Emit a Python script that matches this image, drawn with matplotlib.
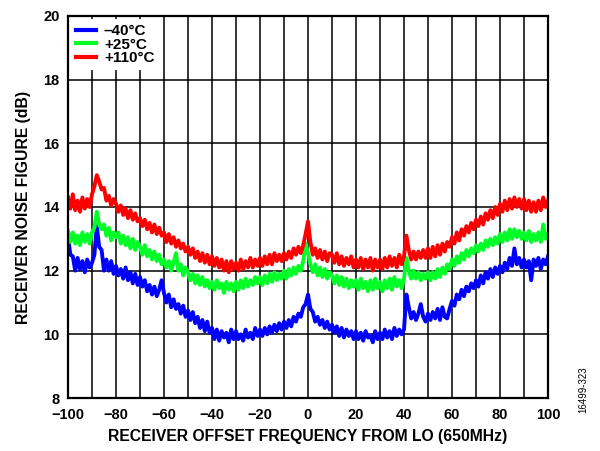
import numpy as np
import matplotlib
matplotlib.use('Agg')
import matplotlib.pyplot as plt

# offset frequency from LO in MHz, 1 MHz steps
freq = np.arange(-100, 101, 1)

# receiver noise figure (dB), one row per 10 MHz
nf_m40 = [
    13.05, 12.5, 12.45, 12.0, 12.4, 12.05, 12.3, 11.95, 12.35, 12.1,
    12.25, 12.5, 13.4, 12.75, 12.65, 12.0, 12.35, 12.0, 12.3, 11.9,
    12.15, 11.85, 12.05, 11.75, 12.1, 11.7, 11.95, 11.6, 11.9, 11.55,
    11.8, 11.5, 11.7, 11.35, 11.55, 11.25, 11.5, 11.2, 11.4, 11.7,
    11.3, 11.0, 11.25, 10.85, 11.1, 10.8, 10.95, 10.65, 10.9, 10.55,
    10.75, 10.45, 10.7, 10.35, 10.55, 10.2, 10.45, 10.1, 10.4, 10.05,
    10.2, 9.85, 10.15, 9.8, 10.1, 9.9, 10.05, 9.75, 10.15, 9.85,
    10.1, 9.85, 10.0, 9.8, 10.15, 9.9, 10.05, 9.85, 10.2, 9.95,
    10.15, 9.95, 10.2, 10.0, 10.25, 10.05, 10.3, 10.1, 10.35, 10.15,
    10.4, 10.2, 10.45, 10.25, 10.55, 10.4, 10.65, 10.55, 10.85, 10.95,
    11.25, 10.8, 10.7, 10.4, 10.55, 10.3, 10.45, 10.2, 10.4, 10.15,
    10.3, 10.05, 10.25, 9.95, 10.2, 9.9, 10.15, 9.95, 10.1, 9.85,
    10.1, 9.85, 10.05, 9.8, 10.1, 9.9, 9.95, 9.75, 10.1, 9.85,
    10.05, 9.85, 10.15, 9.9, 10.1, 9.85, 10.2, 9.95, 10.15, 10.0,
    10.15, 11.25, 10.85, 10.5, 10.7, 10.45, 10.65, 10.95, 10.55, 10.4,
    10.65, 10.45, 10.7, 10.5, 10.8, 10.45, 10.85, 10.55, 10.5, 10.8,
    11.05, 10.9, 11.25, 11.1, 11.4, 11.2, 11.5, 11.35, 11.6, 11.45,
    11.7, 11.5, 11.85, 11.6, 11.95, 11.75, 12.05, 11.8, 12.1, 11.9,
    12.15, 11.95, 12.25, 12.05, 12.4, 12.15, 12.7, 12.2, 12.4, 12.1,
    12.35, 12.1, 12.3, 11.7, 12.35, 12.15, 12.4, 12.05, 12.35, 12.2,
    12.45,
]
nf_p25 = [
    13.25, 12.9, 13.2, 12.85, 13.1, 12.8, 13.2, 12.9, 13.15, 12.85,
    13.2, 13.35, 13.85, 13.45, 13.3, 13.45, 13.1, 13.35, 12.95, 13.2,
    13.05, 13.2, 12.85, 13.1, 12.8, 13.05, 12.7, 13.0, 12.65, 12.9,
    12.75, 12.5, 12.8, 12.45, 12.65, 12.35, 12.6, 12.3, 12.5, 12.2,
    12.35, 12.1, 12.3, 12.0, 12.25, 12.55, 12.0, 12.2, 11.85, 12.1,
    11.95, 11.7, 11.9, 11.6, 11.85, 11.55, 11.8, 11.5, 11.7, 11.45,
    11.65, 11.4, 11.7, 11.45, 11.6, 11.3, 11.65, 11.4, 11.6, 11.35,
    11.65, 11.4, 11.7, 11.45, 11.75, 11.5, 11.7, 11.55, 11.8, 11.6,
    11.8, 11.55, 11.85, 11.6, 11.9, 11.65, 11.95, 11.7, 11.9, 11.75,
    12.0, 11.75, 12.05, 11.85, 12.1, 11.9, 12.15, 12.0, 12.3, 12.85,
    12.55, 12.2, 11.95, 12.2, 11.85, 12.1, 11.8, 12.05, 11.75, 11.95,
    11.85, 11.6, 11.85, 11.55, 11.8, 11.5, 11.75, 11.45, 11.7, 11.5,
    11.7, 11.4, 11.75, 11.45, 11.65, 11.35, 11.7, 11.4, 11.75, 11.45,
    11.65, 11.35, 11.7, 11.45, 11.75, 11.4, 11.8, 11.5, 11.7, 11.45,
    11.75, 12.4, 12.0, 11.75, 12.0, 11.75, 11.95, 11.7, 11.9, 11.75,
    11.95, 11.7, 11.95, 11.75, 12.05, 11.8, 12.1, 11.9, 12.2, 12.05,
    12.35, 12.15, 12.45, 12.25, 12.55, 12.35, 12.65, 12.45, 12.7, 12.55,
    12.8, 12.6, 12.85, 12.65, 12.95, 12.75, 13.0, 12.8, 13.05, 12.85,
    13.15, 12.9, 13.2, 12.95, 13.3, 13.0, 13.3, 13.05, 13.25, 13.0,
    13.2, 12.95, 13.25, 12.9, 13.15, 12.95, 13.2, 12.9, 13.45, 13.0,
    13.15,
]
nf_p110 = [
    14.3, 13.95, 14.4, 13.9, 14.2, 13.85, 14.3, 13.95, 14.25, 14.0,
    14.4, 14.65, 15.0, 14.8, 14.55, 14.6, 14.2, 14.35, 14.05, 14.25,
    14.1, 13.85, 14.05, 13.75, 13.95, 13.65, 13.9, 13.6, 13.8, 13.55,
    13.65, 13.4, 13.6, 13.3, 13.5, 13.2, 13.45, 13.15, 13.35, 13.1,
    13.2, 12.9, 13.15, 12.85, 13.05, 12.75, 12.95, 12.7, 12.85, 12.6,
    12.75, 12.5, 12.7, 12.4, 12.6, 12.3, 12.55, 12.25, 12.5, 12.2,
    12.45, 12.15, 12.4, 12.1, 12.35, 12.0, 12.3, 11.95, 12.3, 12.05,
    12.25, 12.0, 12.35, 12.05, 12.3, 12.1, 12.4, 12.1, 12.35, 12.15,
    12.4, 12.15, 12.45, 12.2, 12.5, 12.2, 12.55, 12.3, 12.5, 12.3,
    12.55, 12.35, 12.6, 12.4, 12.7, 12.5, 12.75, 12.55, 12.8, 13.15,
    13.55, 12.9, 12.5, 12.7, 12.4, 12.65, 12.35, 12.6, 12.3, 12.55,
    12.5, 12.25, 12.55, 12.2, 12.45, 12.15, 12.4, 12.2, 12.45, 12.1,
    12.35, 12.1, 12.4, 12.05, 12.35, 12.1, 12.4, 12.0, 12.35, 12.1,
    12.35, 12.05, 12.4, 12.1, 12.45, 12.15, 12.4, 12.1, 12.5, 12.2,
    12.45, 13.1, 12.65, 12.35, 12.6, 12.35, 12.6, 12.4, 12.65, 12.4,
    12.7, 12.4, 12.75, 12.45, 12.8, 12.5, 12.85, 12.6, 12.9, 12.75,
    13.05, 12.85, 13.2, 12.95, 13.3, 13.1, 13.4, 13.2, 13.5, 13.3,
    13.6, 13.4, 13.7, 13.45, 13.8, 13.6, 13.9, 13.65, 14.0, 13.75,
    14.1, 13.85, 14.2, 13.9, 14.25, 13.95, 14.3, 14.0, 14.25, 13.95,
    14.25, 13.9, 14.2, 13.85, 14.15, 13.85, 14.2, 13.9, 14.3, 14.0,
    14.2,
]

labels = ['\u201340\u00b0C', '+25\u00b0C', '+110\u00b0C']
colors = ['#0000ff', '#00ff26', '#ff0000']

plt.rcParams['font.family'] = ['Liberation Sans', 'DejaVu Sans']
plt.rcParams['font.weight'] = 'bold'

fig = plt.figure(figsize=(6.0, 4.51), dpi=100)
ax = fig.add_axes([68 / 600, 53 / 451, 480 / 600, 382 / 451])

for ys, lab, col in zip([nf_m40, nf_p25, nf_p110], labels, colors):
    ax.plot(freq, ys, color=col, lw=2.8, label=lab)

ax.set_xlim(-100, 100)
ax.set_ylim(8, 20)
ax.set_xticks(np.arange(-100, 101, 20))
ax.set_xticks(np.arange(-100, 101, 10), minor=True)
ax.set_yticks(np.arange(8, 21, 2))
ax.grid(True, which='both', color='black', lw=1.1)
ax.set_axisbelow(True)
ax.tick_params(which='both', length=0, labelsize=10.5)
ax.tick_params(axis='x', pad=7)
ax.tick_params(axis='y', pad=6)
for s in ax.spines.values():
    s.set_linewidth(1.6)

ax.set_xlabel('RECEIVER OFFSET FREQUENCY FROM LO (650MHz)', fontsize=11.3,
              fontweight='bold', labelpad=5)
ax.set_ylabel('RECEIVER NOISE FIGURE (dB)', fontsize=11.3,
              fontweight='bold', labelpad=9)

leg = ax.legend(loc='upper left', fontsize=11, frameon=True, fancybox=False,
                edgecolor='none', facecolor='white', framealpha=1,
                handlelength=1.3, handletextpad=0.5, labelspacing=-0.05,
                borderpad=0.35, borderaxespad=0.2)
for line in leg.get_lines():
    line.set_linewidth(3)

fig.text(0.972, 0.135, '16499-323', rotation=90, fontsize=7,
         fontweight='normal', ha='center', va='center')

fig.savefig('out.png', dpi=100)
